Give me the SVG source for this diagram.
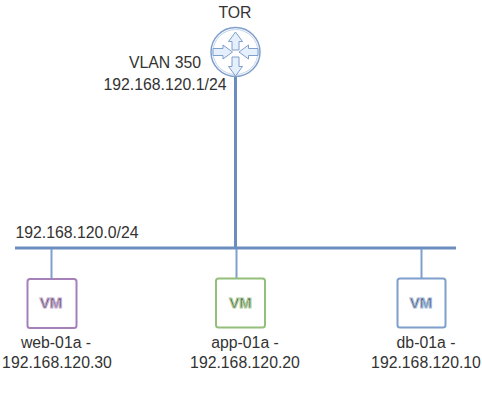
<svg xmlns="http://www.w3.org/2000/svg" width="482" height="419" viewBox="0 0 482 419">
<style>
text{font-family:"Liberation Sans",Arial,sans-serif;font-size:15.8px;fill:#333;text-anchor:middle}
.bus{stroke:#6c8ebf;stroke-width:3;fill:none}
.drop{stroke:#7f9fcc;stroke-width:2;fill:none}
.vm{fill:#fff;stroke-width:2}
.vmt{font-weight:bold;font-size:15px;stroke-width:1.200}
.ar{fill:#e6effc;stroke:#7f9fcc;stroke-width:1;stroke-linejoin:miter}
</style>
<rect width="482" height="419" fill="#fff"/>
<g id="connectors">
<path class="bus" d="M15 248H456"/>
<path class="bus" d="M235.500 77V248"/>
<path class="drop" d="M51.500 249V279"/>
<path class="drop" d="M236.500 249V278"/>
<path class="drop" d="M421.500 249V278"/>
</g>
<g id="tor">
<circle cx="235.500" cy="52" r="24.500" fill="#fff" stroke="#7f9fcc" stroke-width="1.500"/>
<circle cx="235.500" cy="52" r="22.500" fill="none" stroke="#c3d4ee" stroke-width="1"/>
<path class="ar" d="M235.500 32l7 9.500h-3.500v8.500h-7v-8.500h-3.500z"/>
<path class="ar" d="M235.500 76l7-9.500h-3.500v-9.500h-7v9.500h-3.500z"/>
<path class="ar" d="M232.500 52l-9.500-7v3.500h-10v7h10v3.500z"/>
<path class="ar" d="M239 52l9.500-7v3.500h9.500v7h-9.500v3.500z"/>
<text x="235" y="18">TOR</text>
</g>
<text x="165" y="68">VLAN 350</text>
<text x="165" y="90">192.168.120.1/24</text>
<text x="77" y="238">192.168.120.0/24</text>
<g id="web-01a">
<rect class="vm" x="27.500" y="279" width="49" height="49" rx="2.500" stroke="#a680b8"/>
<text class="vmt" x="51" y="308" fill="#f3ecf6" stroke="#c3aad0">VM</text>
<text x="56" y="348">web-01a -</text>
<text x="57" y="368">192.168.120.30</text>
</g>
<g id="app-01a">
<rect class="vm" x="216" y="278.500" width="49" height="49" rx="2.500" stroke="#93bf7b"/>
<text class="vmt" x="240.500" y="307.500" fill="#f0f7eb" stroke="#afd09d">VM</text>
<text x="245" y="348">app-01a -</text>
<text x="245" y="368">192.168.120.20</text>
</g>
<g id="db-01a">
<rect class="vm" x="397.500" y="278.500" width="48" height="49" rx="2.500" stroke="#7f9fcc"/>
<text class="vmt" x="421" y="307.500" fill="#eef4fd" stroke="#a3bbde">VM</text>
<text x="426" y="348">db-01a -</text>
<text x="426" y="368">192.168.120.10</text>
</g>
</svg>
